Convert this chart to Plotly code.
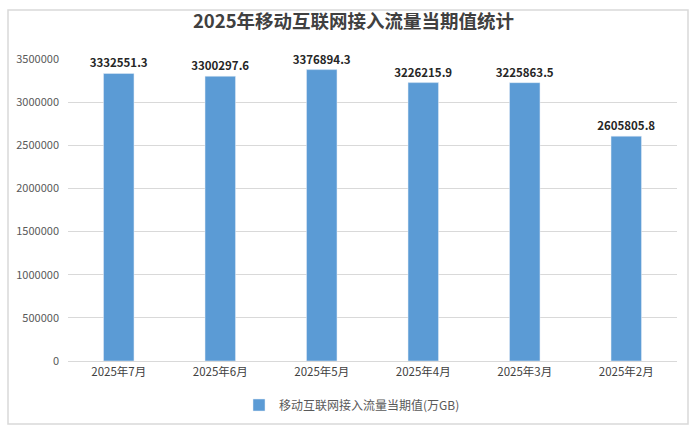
import plotly.graph_objects as go

categories = ["2025年7月", "2025年6月", "2025年5月", "2025年4月", "2025年3月", "2025年2月"]
values = [3332551.3, 3300297.6, 3376894.3, 3226215.9, 3225863.5, 2605805.8]
labels = ["3332551.3", "3300297.6", "3376894.3", "3226215.9", "3225863.5", "2605805.8"]
series_name = "移动互联网接入流量当期值(万GB)"
title = "2025年移动互联网接入流量当期值统计"
tick_vals = [0, 500000, 1000000, 1500000, 2000000, 2500000, 3000000, 3500000]

FONT = "Noto Sans CJK SC"

fig = go.Figure()
fig.add_trace(go.Bar(
    x=categories, y=values, name=series_name,
    marker=dict(color="#5B9BD5"),
    text=["<b>" + t + "</b>" for t in labels], textposition="outside", cliponaxis=False,
    constraintext="none",
    textfont=dict(family=FONT, size=11.5, color="#262626"),
))

L, R, T, B = 68, 23, 59, 76
W, H = 700 - L - R, 437 - T - B

def px(x):
    return (x - L) / W

def py(y):
    return (437 - B - y) / H

fig.update_layout(
    width=700, height=437,
    margin=dict(l=L, r=R, t=T, b=B, autoexpand=False),
    paper_bgcolor="white", plot_bgcolor="white",
    bargap=0.7,
    showlegend=True,
    title=dict(text="<b>" + title + "</b>", x=0.505, xanchor="center", y=1 - 22 / 437, yanchor="middle",
               font=dict(family=FONT, size=18.5, color="#404040")),
    legend=dict(orientation="h", x=px(352), xanchor="center", yref="container",
                y=1 - 405 / 437, yanchor="middle",
                font=dict(family=FONT, size=12, color="#595959"), itemwidth=30),
    font=dict(family=FONT),
    xaxis=dict(showgrid=False, showline=True, linecolor="#D9D9D9", linewidth=1, ticks="",
               automargin=False,
               tickfont=dict(family=FONT, size=11.5, color="#404040")),
    yaxis=dict(range=[0, 3500000], tickvals=tick_vals, ticktext=[str(v) for v in tick_vals],
               showgrid=True, gridcolor="#D9D9D9", gridwidth=1, zeroline=False, automargin=False,
               showline=False, ticks="", tickfont=dict(family=FONT, size=11, color="#595959"),
               ticklabelstandoff=8),
    shapes=[dict(type="rect", xref="paper", yref="paper",
                 x0=px(8), x1=px(688), y0=py(424), y1=py(10),
                 line=dict(color="#D9D9D9", width=1.5), fillcolor="rgba(0,0,0,0)", layer="below")],
)

fig.write_html("out.html", post_script="document.body.style.margin='0';",
               config={"displayModeBar": False})
